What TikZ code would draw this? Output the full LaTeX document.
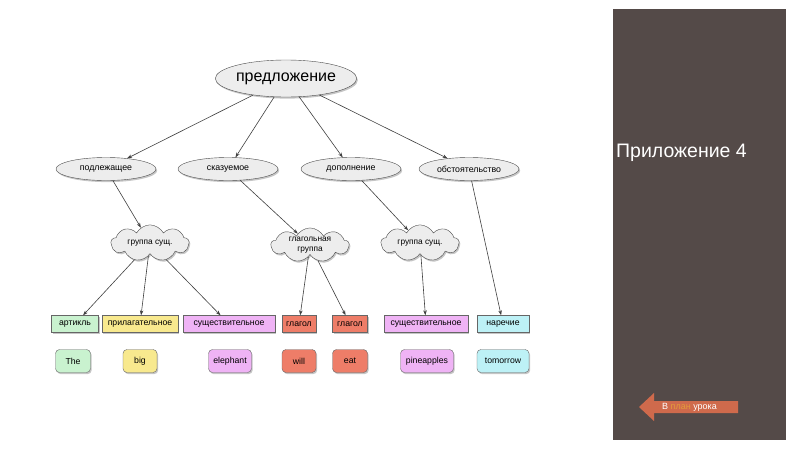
\documentclass[tikz,border=0pt]{standalone}
\usepackage{fontspec}
\setmainfont{Liberation Sans}
\usetikzlibrary{shapes.geometric,shapes.symbols,shadows,arrows.meta}
\definecolor{panel}{HTML}{544A48}
\definecolor{arrowc}{HTML}{CF6A4C}
\definecolor{linkc}{HTML}{E39B3A}
\definecolor{cgreen}{HTML}{C9F2CF}
\definecolor{cyellow}{HTML}{F8E98E}
\definecolor{cviolet}{HTML}{EFB3F5}
\definecolor{csalmon}{HTML}{EE7D68}
\definecolor{ccyan}{HTML}{BDF1F6}
\definecolor{nodefill}{HTML}{EDEDED}
\tikzset{
  shad/.style={drop shadow={shadow xshift=1.2pt,shadow yshift=-1.6pt,opacity=0.45}},
  ell/.style={ellipse, draw=black!70, fill=nodefill, shad, inner sep=0pt,
    minimum height=23pt, minimum width=100pt, font=\fontsize{8.8}{10}\selectfont},
  rootell/.style={ell, minimum width=138pt, minimum height=37pt, font=\fontsize{16}{18}\selectfont},
  cloudnode/.style={cloud, cloud puffs=9, cloud puff arc=125, aspect=2.6, draw=black!70,
    fill=nodefill, shad, inner sep=0pt, minimum width=78pt, minimum height=31pt,
    align=center, font=\fontsize{8.3}{9.8}\selectfont},
  cat/.style={rectangle, draw=black!60, shad, inner sep=0pt, minimum height=17pt,
    font=\fontsize{8.7}{10}\selectfont},
  word/.style={rectangle, rounded corners=4pt, draw=black!60, shad, inner sep=0pt,
    minimum height=23pt, font=\fontsize{8.7}{10}\selectfont},
  arr/.style={draw=black!75, line width=0.6pt, -{Stealth[length=5pt,width=3.5pt]}}
}
\begin{document}
\begin{tikzpicture}[x=1pt,y=-1pt]
\useasboundingbox (0,0) rectangle (800,450);
\fill[white] (0,0) rectangle (800,450);

% root and level 2
\node[rootell] (root) at (286,78.5) {предложение};
\node[ell] (podl) at (106,169) {подлежащее};
\node[ell] (skaz) at (228,169) {сказуемое};
\node[ell] (dop) at (351,169) {дополнение};
\node[ell] (obst) at (469,169) {обстоятельство};

% clouds
\node[cloudnode] (g1) at (150,243) {группа сущ.};
\node[cloudnode] (g2) at (310,245) {глагольная\\группа};
\node[cloudnode] (g3) at (420,243) {группа сущ.};

% categories
\node[cat, fill=cgreen, minimum width=47pt] (c1) at (75,324) {артикль};
\node[cat, fill=cyellow, minimum width=76pt] (c2) at (140,324) {прилагательное};
\node[cat, fill=cviolet, minimum width=92pt] (c3) at (229,324) {существительное};
\node[cat, fill=csalmon, minimum width=34pt] (c4) at (299,324) {глагол};
\node[cat, fill=csalmon, minimum width=35pt] (c5) at (350,324) {глагол};
\node[cat, fill=cviolet, minimum width=84pt] (c6) at (426,324) {существительное};
\node[cat, fill=ccyan, minimum width=52pt] (c7) at (503,324) {наречие};

% words
\node[word, fill=cgreen, minimum width=35pt] (w1) at (73,361) {The};
\node[word, fill=cyellow, minimum width=34pt] (w2) at (140,361) {big};
\node[word, fill=cviolet, minimum width=43pt] (w3) at (230,361) {elephant};
\node[word, fill=csalmon, minimum width=34pt] (w4) at (299,361) {will};
\node[word, fill=csalmon, minimum width=35pt] (w5) at (350,361) {eat};
\node[word, fill=cviolet, minimum width=53pt] (w6) at (427,361) {pineapples};
\node[word, fill=ccyan, minimum width=52pt] (w7) at (503,361) {tomorrow};

% connectors
\draw[arr] (root) -- (podl);
\draw[arr] (root) -- (skaz);
\draw[arr] (root) -- (dop);
\draw[arr] (root) -- (obst);
\draw[arr] (podl) -- (g1);
\draw[arr] (skaz) -- (g2);
\draw[arr] (dop) -- (g3);
\draw[arr] (obst) -- (c7);
\draw[arr] (g1) -- (c1);
\draw[arr] (g1) -- (c2);
\draw[arr] (g1) -- (c3);
\draw[arr] (g2) -- (c4);
\draw[arr] (g2) -- (c5);
\draw[arr] (g3) -- (c6);

% right panel
\fill[panel] (613,9) rectangle (786,440);
\node[anchor=west, text=white, inner sep=0pt, font=\fontsize{19.5}{22}\selectfont] (title) at (616,153) {Приложение 4};
\fill[arrowc] (639,407) -- (654,393) -- (654,401) -- (738,401) -- (738,413) -- (654,413) -- (654,421) -- cycle;
\node[anchor=west, text=white, inner sep=0pt, font=\fontsize{9}{10}\selectfont] (back) at (662,407) {В \textcolor{linkc}{план} урока};
\end{tikzpicture}
\end{document}
